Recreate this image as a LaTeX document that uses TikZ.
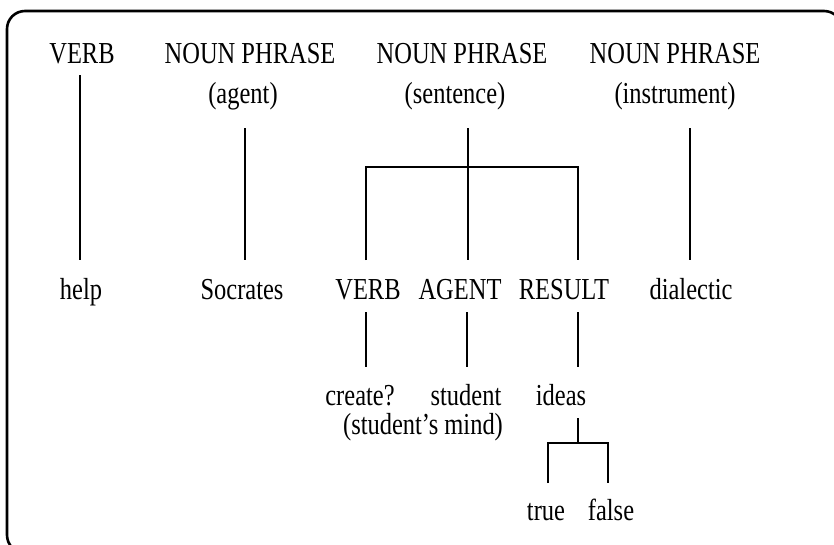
\documentclass[tikz,border=0pt]{standalone}
\usepackage{fontspec}
\setmainfont{Liberation Serif}
\newcommand{\tall}[1]{\scalebox{1.02}[1.27]{#1}}
\begin{document}
\begin{tikzpicture}[x=1pt,y=-1pt,
  lbl/.style={anchor=base,inner sep=0pt,font=\fontsize{24}{28}\selectfont},
  link/.style={line width=1.6pt},
  frame/.style={line width=2.6pt,rounded corners=18pt}]
\useasboundingbox (0,0) rectangle (834,544);
\begin{scope}
\clip (0,0) rectangle (834,544);
\draw[frame] (7,11) rectangle (842,553);
\end{scope}

% top row: phrase categories
\node[lbl] (verb) at (82,63) {\tall{VERB}};
\node[lbl] (npA) at (250,63) {\tall{NOUN PHRASE}};
\node[lbl] (npS) at (462,63) {\tall{NOUN PHRASE}};
\node[lbl] (npI) at (675,63) {\tall{NOUN PHRASE}};
\node[lbl] (agent) at (243,103) {\tall{(agent)}};
\node[lbl] (sentence) at (455,103) {\tall{(sentence)}};
\node[lbl] (instrument) at (675,103) {\tall{(instrument)}};

% middle row: fillers
\node[lbl] (help) at (81,299) {\tall{help}};
\node[lbl] (socrates) at (242,299) {\tall{Socrates}};
\node[lbl] (sverb) at (368,299) {\tall{VERB}};
\node[lbl] (sagent) at (460,299) {\tall{AGENT}};
\node[lbl] (sresult) at (564,299) {\tall{RESULT}};
\node[lbl] (dialectic) at (691,299) {\tall{dialectic}};

% embedded sentence fillers
\node[lbl] (create) at (360,405) {\tall{create?}};
\node[lbl] (student) at (466,405) {\tall{student}};
\node[lbl] (ideas) at (561,405) {\tall{ideas}};
\node[lbl] (mind) at (423,434) {\tall{(student's mind)}};
\node[lbl] (true) at (546,520) {\tall{true}};
\node[lbl] (false) at (611,520) {\tall{false}};

% line end points
\coordinate (verbT) at (80,75);
\coordinate (verbB) at (80,260);
\coordinate (agentT) at (245,128);
\coordinate (agentB) at (245,260);
\coordinate (sentT) at (468,128);
\coordinate (sentB) at (468,260);
\coordinate (instT) at (690,128);
\coordinate (instB) at (690,260);
\coordinate (brL) at (366,167);
\coordinate (brR) at (578,167);
\coordinate (svB) at (366,260);
\coordinate (srB) at (578,260);
\coordinate (svT2) at (366,312);
\coordinate (svB2) at (366,367);
\coordinate (saT2) at (467,312);
\coordinate (saB2) at (467,367);
\coordinate (srT2) at (578,312);
\coordinate (srB2) at (578,367);
\coordinate (idT) at (578,418);
\coordinate (idJ) at (578,443);
\coordinate (tfL) at (548,443);
\coordinate (tfR) at (608,443);
\coordinate (trB) at (548,483);
\coordinate (faB) at (608,483);

\draw[link] (verbT) -- (verbB);
\draw[link] (agentT) -- (agentB);
\draw[link] (sentT) -- (sentB);
\draw[link] (instT) -- (instB);
\draw[link] (svB) -- (brL) -- (brR) -- (srB);
\draw[link] (svT2) -- (svB2);
\draw[link] (saT2) -- (saB2);
\draw[link] (srT2) -- (srB2);
\draw[link] (idT) -- (idJ);
\draw[link] (trB) -- (tfL) -- (tfR) -- (faB);
\end{tikzpicture}
\end{document}
